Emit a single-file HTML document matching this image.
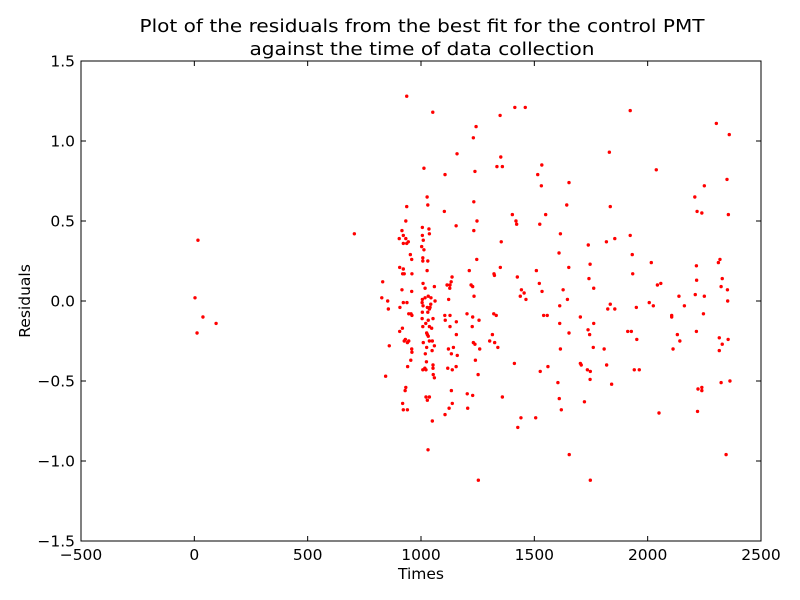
<!DOCTYPE html>
<html><head><meta charset="utf-8"><style>
html,body{margin:0;padding:0;background:#fff;}
svg{display:block;font-family:"DejaVu Sans","Liberation Sans",sans-serif;}
</style></head><body>
<svg id="chart" width="800" height="600" viewBox="0 0 800 600" xmlns="http://www.w3.org/2000/svg">
<rect x="0" y="0" width="800" height="600" fill="#fff"/>
<text x="422" y="32" text-anchor="middle" font-size="18" textLength="565" lengthAdjust="spacingAndGlyphs">Plot of the residuals from the best fit for the control PMT</text>
<text x="422" y="55" text-anchor="middle" font-size="18" textLength="345" lengthAdjust="spacingAndGlyphs">against the time of data collection</text>
<g id="points"></g>
<rect x="81" y="61" width="680" height="480" fill="none" stroke="#000" stroke-width="1"/>
<g id="xticks"></g>
<g id="yticks"></g>
<text x="421" y="579" text-anchor="middle" font-size="15.5">Times</text>
<text x="0" y="0" transform="translate(30,301) rotate(-90)" text-anchor="middle" font-size="15.5">Residuals</text>
</svg>
<script>
const xTickValues=[-500,0,500,1000,1500,2000,2500];
const xTickLabels=["\u2212500","0","500","1000","1500","2000","2500"];
const yTickValues=[-1.5,-1.0,-0.5,0.0,0.5,1.0,1.5];
const yTickLabels=["\u22121.5","\u22121.0","\u22120.5","0.0","0.5","1.0","1.5"];
const timesX=[937,1052,1243,1231,1159,1013,1106,1238,706,1027,937,1030,1103,1233,933,1155,1247,1233,916,1006,1035,922,1006,1037,904,933,922,937,944,1010,1003,1013,953,959,1008,1008,1030,1246,906,922,919,926,960,1027,1213,831,1137,1133,1009,1128,1115,1059,1221,1228,916,959,1018,1127,827,853,1006,1018,1032,1044,1062,1122,1234,856,907,922,938,1005,1009,1028,1040,1043,1037,
946,956,960,1006,1030,1105,1128,1203,1228,1256,1005,1032,1053,1107,1156,1021,1008,1037,1047,1128,1226,918,906,1025,1028,1032,1156,931,926,946,940,1010,1037,1050,1231,1238,860,1025,1059,1121,1143,1259,959,960,1049,1019,1134,1160,955,1024,1240,941,1053,1053,1017,1008,1022,1118,1138,1155,844,1054,1059,1252,933,930,1134,1204,1228,1022,1037,1028,919,1138,922,940,1124,1206,1106,1050,1031,1253,
1414,1460,1349,1831,1352,1335,1359,1533,1515,1531,1653,1643,1835,1403,1550,1419,1422,1524,1615,1354,1738,1818,1855,1609,1746,1350,1652,1509,1322,1324,1425,1741,1522,1443,1534,1627,1762,1455,1438,1463,1646,1612,1835,1824,1855,
1321,1332,1541,1557,1703,1612,1762,1737,1744,1653,1315,1303,1325,1339,1615,1760,1808,1412,1526,1560,1703,1707,1734,1747,1819,1746,1604,1841,1359,1610,1721,1619,1441,1506,1427,1654,1747,
1923,2303,2360,2038,2350,2250,2208,2218,2239,2356,1923,1932,2016,2215,2312,2319,1934,2216,2329,2043,2058,2324,2352,2138,2210,2250,2353,2007,2025,1950,2162,
2106,2106,2246,1912,1928,1952,2131,2142,2215,2316,2355,2329,2316,2112,1941,1963,2363,2324,2222,2239,2239,2220,2050,2346,
3,16,12,38,96];
const residualsY=[1.28,1.18,1.09,1.02,0.92,0.83,0.79,0.81,0.42,0.65,0.59,0.60,0.56,0.62,0.50,0.47,0.50,0.44,0.44,0.46,0.45,0.41,0.41,0.42,0.39,0.39,0.36,0.36,0.37,0.38,0.34,0.32,0.29,0.26,0.27,0.25,0.25,0.26,0.21,0.20,0.17,0.17,0.17,0.19,0.19,0.12,0.15,0.12,0.11,0.10,0.10,0.09,0.10,0.09,0.07,0.06,0.08,0.08,0.02,0.00,0.01,0.02,0.03,0.02,0.00,0.01,0.03,-0.05,-0.04,-0.01,-0.01,-0.01,-0.03,-0.04,-0.04,-0.02,-0.05,
-0.08,-0.08,-0.09,-0.07,-0.07,-0.09,-0.09,-0.08,-0.10,-0.12,-0.11,-0.12,-0.11,-0.12,-0.13,-0.14,-0.16,-0.16,-0.17,-0.16,-0.16,-0.17,-0.19,-0.20,-0.21,-0.22,-0.21,-0.24,-0.25,-0.25,-0.26,-0.26,-0.25,-0.25,-0.26,-0.27,-0.28,-0.29,-0.28,-0.30,-0.29,-0.30,-0.30,-0.32,-0.31,-0.33,-0.33,-0.34,-0.37,-0.38,-0.37,-0.41,-0.40,-0.42,-0.42,-0.43,-0.43,-0.42,-0.43,-0.41,-0.47,-0.46,-0.48,-0.46,-0.54,-0.56,-0.56,-0.58,-0.59,-0.60,-0.60,-0.62,-0.64,-0.64,-0.68,-0.68,-0.67,-0.67,-0.71,-0.75,-0.93,-1.12,
1.21,1.21,1.16,0.93,0.90,0.84,0.84,0.85,0.79,0.72,0.74,0.60,0.59,0.54,0.54,0.50,0.48,0.48,0.42,0.37,0.35,0.37,0.39,0.30,0.23,0.21,0.21,0.19,0.17,0.16,0.15,0.14,0.11,0.07,0.06,0.07,0.08,0.05,0.03,0.01,0.01,-0.03,-0.02,-0.05,-0.05,
-0.08,-0.09,-0.09,-0.09,-0.10,-0.14,-0.14,-0.18,-0.21,-0.20,-0.21,-0.25,-0.26,-0.29,-0.30,-0.29,-0.30,-0.39,-0.44,-0.41,-0.39,-0.40,-0.43,-0.44,-0.40,-0.49,-0.51,-0.52,-0.60,-0.61,-0.63,-0.68,-0.73,-0.73,-0.79,-0.96,-1.12,
1.19,1.11,1.04,0.82,0.76,0.72,0.65,0.56,0.55,0.54,0.41,0.29,0.24,0.22,0.24,0.26,0.17,0.13,0.14,0.10,0.11,0.09,0.07,0.03,0.04,0.03,0.00,-0.01,-0.03,-0.04,-0.03,
-0.09,-0.10,-0.08,-0.19,-0.19,-0.24,-0.21,-0.25,-0.19,-0.23,-0.24,-0.27,-0.31,-0.30,-0.43,-0.43,-0.50,-0.51,-0.55,-0.54,-0.56,-0.69,-0.70,-0.96,
0.02,0.38,-0.20,-0.10,-0.14];
const NS="http://www.w3.org/2000/svg";
const L=81,R=761,T=61,B=541,xMin=-500,xMax=2500,yMin=-1.5,yMax=1.5;
function xScale(v){return L+(v-xMin)/(xMax-xMin)*(R-L);}
function yScale(v){return B-(v-yMin)/(yMax-yMin)*(B-T);}
const pg=document.getElementById('points');
const n=Math.min(timesX.length,residualsY.length);
for(let i=0;i<n;i++){
  const c=document.createElementNS(NS,'circle');
  c.setAttribute('cx',xScale(timesX[i]).toFixed(2));
  c.setAttribute('cy',yScale(residualsY[i]).toFixed(2));
  c.setAttribute('r','1.7');
  c.setAttribute('fill','#ff0000');
  
  
  pg.appendChild(c);
}
const xg=document.getElementById('xticks');
xTickValues.forEach((v,i)=>{
  const x=xScale(v);
  [[B,B-5],[T,T+5]].forEach(p=>{
    const l=document.createElementNS(NS,'line');
    l.setAttribute('x1',x);l.setAttribute('x2',x);
    l.setAttribute('y1',p[0]);l.setAttribute('y2',p[1]);
    l.setAttribute('stroke','#000');
    
    
    xg.appendChild(l);
  });
  const t=document.createElementNS(NS,'text');
  t.setAttribute('x',x);t.setAttribute('y',B+19);
  t.setAttribute('text-anchor','middle');t.setAttribute('font-size','15.5');
  
  
  t.textContent=xTickLabels[i];
  xg.appendChild(t);
});
const yg=document.getElementById('yticks');
yTickValues.forEach((v,i)=>{
  const y=yScale(v);
  [[L,L+5],[R,R-5]].forEach(p=>{
    const l=document.createElementNS(NS,'line');
    l.setAttribute('x1',p[0]);l.setAttribute('x2',p[1]);
    l.setAttribute('y1',y);l.setAttribute('y2',y);
    l.setAttribute('stroke','#000');
    
    
    yg.appendChild(l);
  });
  const t=document.createElementNS(NS,'text');
  t.setAttribute('x',L-6);t.setAttribute('y',y+5.5);
  t.setAttribute('text-anchor','end');t.setAttribute('font-size','15.5');
  
  
  t.textContent=yTickLabels[i];
  yg.appendChild(t);
});
</script>
</body></html>
